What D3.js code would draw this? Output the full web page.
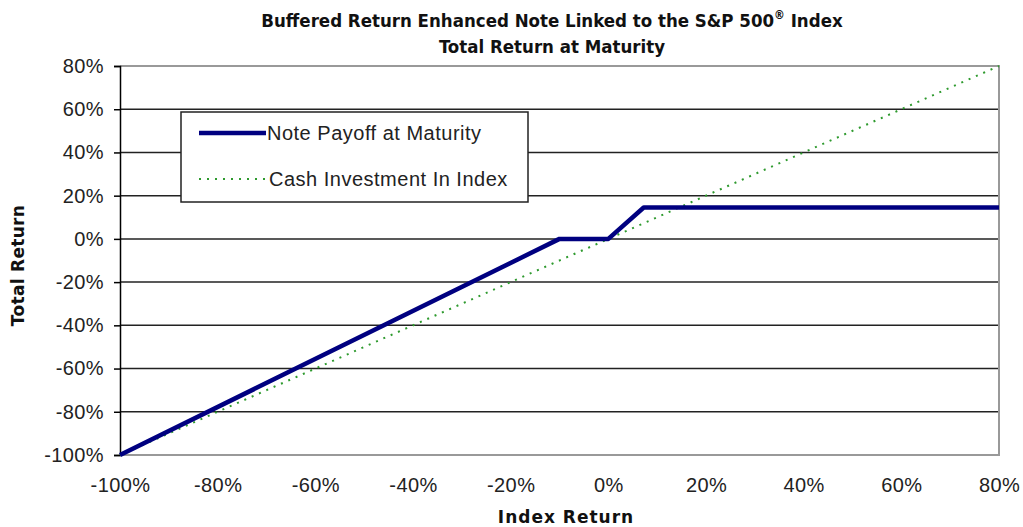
<!DOCTYPE html>
<html>
<head>
<meta charset="utf-8">
<script src="https://cdn.jsdelivr.net/npm/d3@7"></script>
<style>
  body { margin: 0; background: #fff; }
  svg { display: block; }
</style>
</head>
<body>
<svg id="chart" width="1023" height="527"></svg>
<script>
// index return points (x) and the two series
const indexReturn = [-100, -10, 0, 7.25, 80];
const notePayoff = [-100, 0, 0, 14.5, 14.5];
const cashIndex = [-100, -10, 0, 7.25, 80];
const yTicks = [-100, -80, -60, -40, -20, 0, 20, 40, 60, 80];
const xTicks = [-100, -80, -60, -40, -20, 0, 20, 40, 60, 80];
const seriesNames = ['Note Payoff at Maturity', 'Cash Investment In Index'];

const svg = d3.select('#chart');
const margin = { top: 66, right: 24, bottom: 72, left: 120 };
const width = 1023, height = 527;
const innerWidth = width - margin.left - margin.right;
const innerHeight = height - margin.top - margin.bottom;
const tickFont = 'Liberation Sans, Arial, sans-serif';

const xScale = d3.scaleLinear().domain([-100, 80]).range([0, innerWidth]);
const yScale = d3.scaleLinear().domain([-100, 80]).range([innerHeight, 0]);

const g = svg.append('g').attr('transform', `translate(${margin.left}, ${margin.top})`);

// gridlines
g.append('g')
  .selectAll('line')
  .data(yTicks.filter(d => d !== 80 && d !== -100))
  .enter()
  .append('line')
  .attr('x1', 0).attr('x2', innerWidth)
  .attr('y1', d => yScale(d)).attr('y2', d => yScale(d))
  .attr('stroke', '#222').attr('stroke-width', 1.5);

// plot border (top/right/bottom grey)
g.append('path')
  .attr('d', `M0,0H${innerWidth}V${innerHeight}H0`)
  .attr('fill', 'none').attr('stroke', '#999').attr('stroke-width', 2);

// y axis
const yAxis = d3.axisLeft(yScale).tickValues(yTicks).tickSize(6).tickPadding(10).tickFormat(d => d + '%');
const yg = g.append('g').call(yAxis);
yg.select('.domain').attr('stroke', '#000').attr('stroke-width', 1.5);
yg.selectAll('.tick line').attr('stroke', '#000').attr('stroke-width', 1.5);
yg.selectAll('text').attr('font-family', tickFont).attr('font-size', 20)
  .attr('letter-spacing', 0.4).attr('fill', '#222');

// x axis (labels only)
const xAxis = d3.axisBottom(xScale).tickValues(xTicks).tickSize(0).tickPadding(23).tickFormat(d => d + '%');
const xg = g.append('g').attr('transform', `translate(0, ${innerHeight})`).call(xAxis);
xg.select('.domain').remove();
xg.selectAll('text').attr('font-family', tickFont).attr('font-size', 20)
  .attr('letter-spacing', 0.4).attr('fill', '#222');

// lines
const line = d3.line().x(d => xScale(d[0])).y(d => yScale(d[1]));
g.append('path')
  .attr('d', line(indexReturn.map((x, i) => [x, cashIndex[i]])))
  .attr('fill', 'none').attr('stroke', '#2e9a2e').attr('stroke-width', 2)
  .attr('stroke-dasharray', '2,6');
g.append('path')
  .attr('d', line(indexReturn.map((x, i) => [x, notePayoff[i]])))
  .attr('fill', 'none').attr('stroke', '#000080').attr('stroke-width', 4.5)
  .attr('stroke-linejoin', 'round');

// legend
const lg = svg.append('g').attr('transform', 'translate(181, 112)');
lg.append('rect').attr('width', 347).attr('height', 90)
  .attr('fill', '#fff').attr('stroke', '#222').attr('stroke-width', 1.5);
lg.append('line').attr('x1', 18).attr('x2', 85).attr('y1', 21).attr('y2', 21)
  .attr('stroke', '#000080').attr('stroke-width', 4.5);
lg.append('line').attr('x1', 18).attr('x2', 85).attr('y1', 67).attr('y2', 67)
  .attr('stroke', '#2e9a2e').attr('stroke-width', 2).attr('stroke-dasharray', '2,6');
lg.selectAll('text.lab')
  .data(seriesNames)
  .enter()
  .append('text')
  .attr('x', (d, i) => i === 0 ? 86 : 88)
  .attr('y', (d, i) => i === 0 ? 28 : 74)
  .attr('font-family', tickFont)
  .attr('font-size', 20).attr('letter-spacing', 0.5).attr('fill', '#222')
  .text(d => d);

// titles
const titleFont = 'DejaVu Sans Condensed, DejaVu Sans, sans-serif';
const t1 = svg.append('text').attr('x', 552).attr('y', 27).attr('text-anchor', 'middle')
  .attr('font-family', titleFont).attr('font-weight', 'bold').attr('font-size', 18.5).attr('fill', '#111');
t1.append('tspan').text('Buffered Return Enhanced Note Linked to the S&P 500');
t1.append('tspan').attr('dy', -8).attr('font-size', 12).text('®');
t1.append('tspan').attr('dy', 8).text(' Index');
svg.append('text').attr('x', 552).attr('y', 53).attr('text-anchor', 'middle')
  .attr('font-family', titleFont).attr('font-weight', 'bold').attr('font-size', 18.5).attr('fill', '#111')
  .text('Total Return at Maturity');

svg.append('text')
  .attr('transform', `translate(24, ${margin.top + innerHeight / 2 + 5}) rotate(-90)`)
  .attr('text-anchor', 'middle')
  .attr('font-family', 'DejaVu Sans, sans-serif').attr('font-weight', 'bold').attr('font-size', 17)
  .attr('letter-spacing', 0.3).attr('fill', '#111')
  .text('Total Return');
svg.append('text')
  .attr('x', 566).attr('y', 523).attr('text-anchor', 'middle')
  .attr('font-family', 'DejaVu Sans, sans-serif').attr('font-weight', 'bold').attr('font-size', 17)
  .attr('letter-spacing', 1).attr('fill', '#111')
  .text('Index Return');
</script>
</body>
</html>
